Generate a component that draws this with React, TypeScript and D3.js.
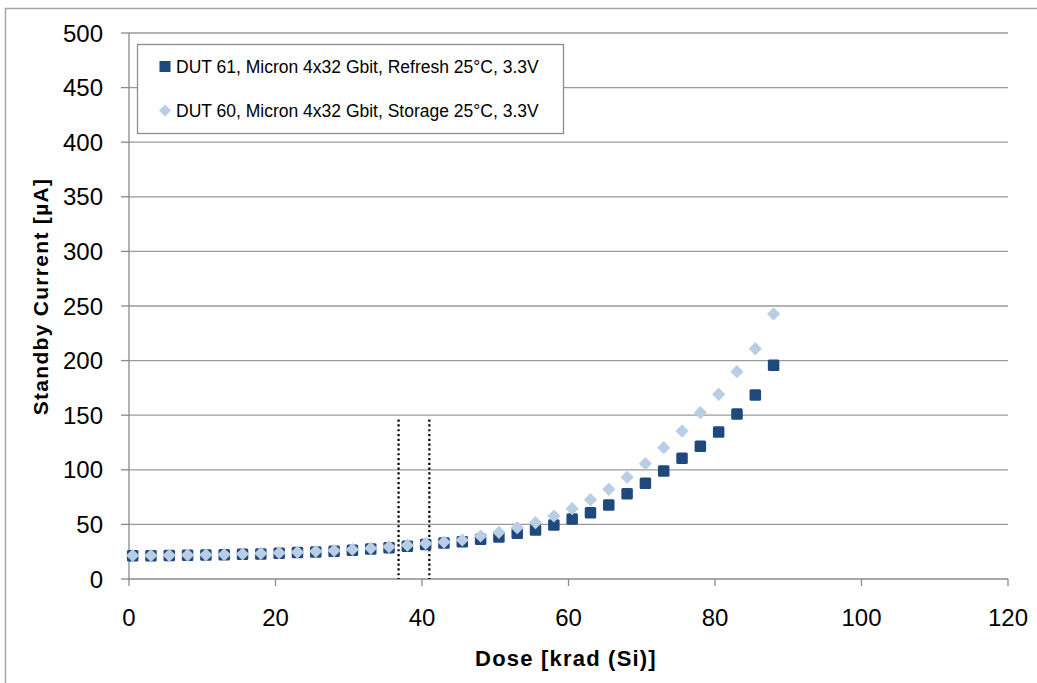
import React from "react";
import * as d3 from "d3";

// Total ionizing dose steps [krad (Si)]
const doses: number[] = [
  0.5, 3, 5.5, 8, 10.5, 13, 15.5, 18, 20.5, 23, 25.5, 28, 30.5, 33, 35.5, 38, 40.5, 43,
  45.5, 48, 50.5, 53, 55.5, 58, 60.5, 63, 65.5, 68, 70.5, 73, 75.5, 78, 80.5, 83, 85.5, 88,
];

// DUT 61, refresh mode standby current [µA]
const refreshCurrent: number[] = [
  21.3, 21.3, 21.5, 21.7, 21.9, 22.1, 22.6, 23.0, 23.6, 24.2, 24.8, 25.5, 26.4, 27.4, 28.6,
  29.9, 31.5, 33.0, 34.2, 36.3, 38.5, 41.8, 44.9, 49.5, 55.0, 60.7, 67.8, 78.0, 87.6, 98.9,
  110.5, 121.5, 134.6, 151.1, 168.5, 195.7,
];

// DUT 60, storage mode standby current [µA]
const storageCurrent: number[] = [
  21.5, 21.5, 21.7, 21.9, 22.1, 22.4, 22.9, 23.4, 24.0, 24.6, 25.3, 26.0, 27.0, 28.1, 29.5,
  30.9, 32.6, 33.8, 35.7, 39.4, 42.7, 47.0, 51.6, 57.7, 64.4, 72.6, 82.1, 93.1, 105.6, 120.3,
  135.5, 152.3, 169.1, 189.9, 210.9, 242.7,
];

const xTicks: number[] = [0, 20, 40, 60, 80, 100, 120];
const yTicks: number[] = [0, 50, 100, 150, 200, 250, 300, 350, 400, 450, 500];

// Dose markers drawn as dotted verticals, with their top value
const markerDoses: number[] = [36.8, 41.0];
const markerTop = 146;

const seriesNames: string[] = [
  "DUT 61, Micron 4x32 Gbit, Refresh 25°C, 3.3V",
  "DUT 60, Micron 4x32 Gbit, Storage 25°C, 3.3V",
];

const DARK = "#1F497D";
const LIGHT = "#B9CDE5";
const GRID = "#9A9A9A";
const AXIS = "#8A8A8A";
const FONT = "'Liberation Sans', Arial, sans-serif";

export default function App() {
  const W = 1037;
  const H = 683;
  const x = d3.scaleLinear().domain([0, 120]).range([129, 1008]);
  const y = d3.scaleLinear().domain([0, 500]).range([579, 33]);

  const sq = 11.5;
  const dia = 6.6;
  const diamondPath = (cx: number, cy: number, r: number) =>
    `M${cx},${cy - r}L${cx + r},${cy}L${cx},${cy + r}L${cx - r},${cy}Z`;

  return (
    <svg
      width={W}
      height={H}
      style={{ position: "absolute", left: 0, top: 0, background: "#fff" }}
    >
      {/* chart frame */}
      <rect x={5.5} y={8.5} width={1100} height={800} fill="none" stroke="#A6A6A6" strokeWidth={1.5} />

      {/* horizontal gridlines */}
      {yTicks.map((t) =>
        t === 0 ? null : (
          <line key={`g${t}`} x1={x(0)} x2={x(120)} y1={y(t)} y2={y(t)} stroke={GRID} strokeWidth={1.3} />
        )
      )}

      {/* y axis */}
      <line x1={x(0)} x2={x(0)} y1={y(0)} y2={y(500)} stroke={AXIS} strokeWidth={1.3} />
      {yTicks.map((t) => (
        <g key={`yt${t}`}>
          <line x1={x(0) - 8} x2={x(0)} y1={y(t)} y2={y(t)} stroke={AXIS} strokeWidth={1.3} />
          <text
            x={103}
            y={y(t)}
            dy="0.36em"
            textAnchor="end"
            fontFamily={FONT}
            fontSize={24}
            fill="#000"
          >
            {t}
          </text>
        </g>
      ))}

      {/* x axis */}
      <line x1={x(0)} x2={x(120)} y1={y(0)} y2={y(0)} stroke={AXIS} strokeWidth={1.3} />
      {xTicks.map((t) => (
        <g key={`xt${t}`}>
          <line x1={x(t)} x2={x(t)} y1={y(0)} y2={y(0) + 7} stroke={AXIS} strokeWidth={1.3} />
          <text
            x={x(t)}
            y={617}
            dy="0.36em"
            textAnchor="middle"
            fontFamily={FONT}
            fontSize={24}
            fill="#000"
          >
            {t}
          </text>
        </g>
      ))}

      {/* axis titles */}
      <text
        x={566}
        y={658}
        dy="0.36em"
        textAnchor="middle"
        fontFamily={FONT}
        fontWeight="bold"
        fontSize={22}
        letterSpacing={1.2}
      >
        Dose [krad (Si)]
      </text>
      <text
        transform={`translate(40,${(175 + 418) / 2}) rotate(-90)`}
        dy="0.36em"
        textAnchor="middle"
        fontFamily={FONT}
        fontWeight="bold"
        fontSize={21}
        letterSpacing={1.3}
      >
        Standby Current [µA]
      </text>

      {/* dotted dose markers */}
      {markerDoses.map((d) => (
        <line
          key={`m${d}`}
          x1={x(d)}
          x2={x(d)}
          y1={y(markerTop)}
          y2={y(0)}
          stroke="#000"
          strokeWidth={2.2}
          strokeDasharray="2.2 2.6"
        />
      ))}

      {/* refresh series: squares */}
      {doses.map((d, i) => (
        <rect
          key={`s${i}`}
          x={x(d) - sq / 2}
          y={y(refreshCurrent[i]) - sq / 2}
          width={sq}
          height={sq}
          rx={1.5}
          fill={DARK}
        />
      ))}

      {/* storage series: diamonds */}
      {doses.map((d, i) => (
        <path key={`d${i}`} d={diamondPath(x(d), y(storageCurrent[i]), dia)} fill={LIGHT} />
      ))}

      {/* legend */}
      <rect x={137.5} y={44.5} width={426} height={89} fill="#fff" stroke="#8C8C8C" strokeWidth={1.3} />
      <rect x={159.5} y={61} width={11} height={11} fill={DARK} />
      <path d={diamondPath(165, 110.5, 6)} fill={LIGHT} />
      {seriesNames.map((n, i) => (
        <text
          key={`l${i}`}
          x={176}
          y={i === 0 ? 66.5 : 110.5}
          dy="0.36em"
          fontFamily={FONT}
          fontSize={17.5}
          fill="#000"
        >
          {n}
        </text>
      ))}
    </svg>
  );
}
